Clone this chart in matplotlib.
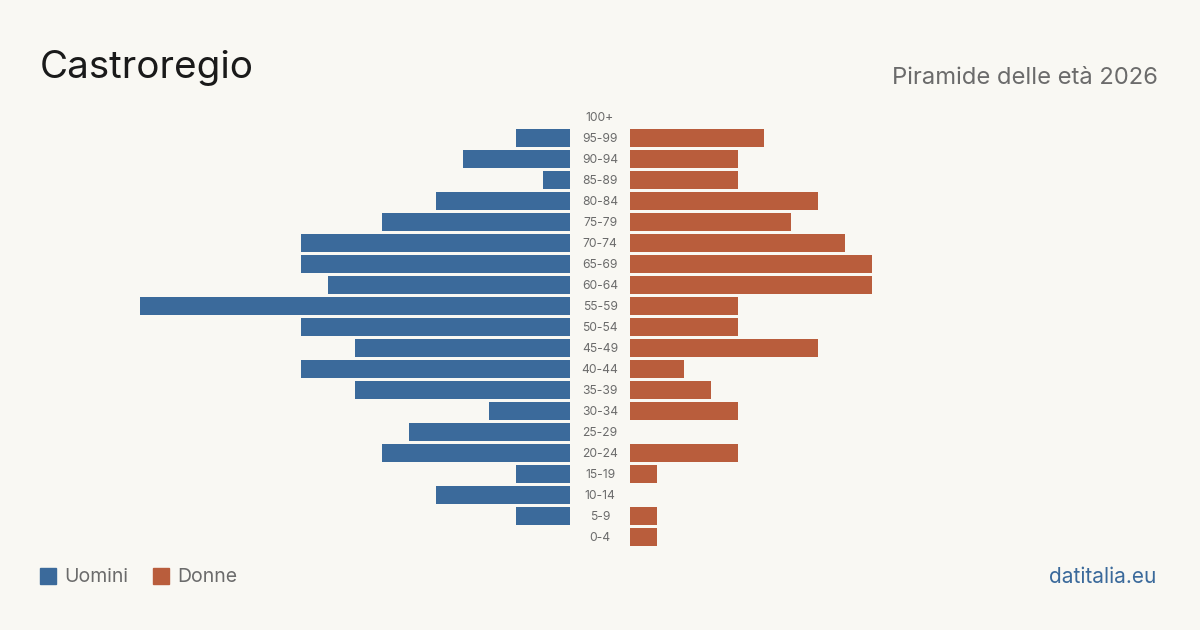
import numpy as np
import matplotlib.pyplot as plt
from matplotlib.patches import Rectangle

# Fasce d'età dal basso verso l'alto
age_groups = ["0-4", "5-9", "10-14", "15-19", "20-24", "25-29", "30-34", "35-39",
              "40-44", "45-49", "50-54", "55-59", "60-64", "65-69", "70-74",
              "75-79", "80-84", "85-89", "90-94", "95-99", "100+"]
uomini = [0, 2, 5, 2, 7, 6, 3, 8, 10, 8, 10, 16, 9, 10, 10, 7, 5, 1, 4, 2, 0]
donne = [1, 1, 0, 1, 4, 0, 4, 3, 2, 7, 4, 4, 9, 9, 8, 6, 7, 4, 4, 5, 0]

title = "Castroregio"
subtitle = "Piramide delle età 2026"
source = "datitalia.eu"

BG = "#f9f8f3"
BLUE = "#3b6a9b"
ORANGE = "#b95d3c"
GREY = "#6b6b6b"

plt.rcParams['font.family'] = ['Inter', 'DejaVu Sans']

W, H = 1200, 630
fig = plt.figure(figsize=(W / 100, H / 100), dpi=100, facecolor=BG)

xmax = max(max(uomini), max(donne))
px_per_unit = 430 / 16
span = xmax * px_per_unit

n = len(age_groups)
row = 21
top = 106.5
bottom = top + n * row

def fig_rect(x0, x1, y0, y1):
    # pixel coords (top-left origin) -> figure fraction
    return [x0 / W, 1 - y1 / H, (x1 - x0) / W, (y1 - y0) / H]

y = np.arange(n)

ax_l = fig.add_axes(fig_rect(570 - span, 570, top, bottom))
ax_l.barh(y, uomini, height=0.81, color=BLUE)
ax_l.set_xlim(xmax, 0)

ax_r = fig.add_axes(fig_rect(630, 630 + span, top, bottom))
ax_r.barh(y, donne, height=0.81, color=ORANGE)
ax_r.set_xlim(0, xmax)

for ax in (ax_l, ax_r):
    ax.set_ylim(-0.5, n - 0.5)
    ax.set_facecolor("none")
    ax.axis("off")

# etichette centrali
for i, lab in enumerate(age_groups):
    yy = 1 - (top + (n - 1 - i) * row + row / 2 + 1) / H
    fig.text(600 / W, yy, lab, ha="center", va="center", fontsize=8.7, color=GREY)

fig.text(40 / W, 1 - 68 / H, title, ha="left", va="center", fontsize=27.8, color="#1a1a1a")
fig.text(1158 / W, 1 - 78 / H, subtitle, ha="right", va="center", fontsize=17.1, color=GREY)

# legenda
for x0, col, lab in [(40, BLUE, "Uomini"), (153, ORANGE, "Donne")]:
    fig.patches.append(Rectangle((x0 / W, 1 - 584 / H), 16 / W, 16 / H,
                                 transform=fig.transFigure, color=col))
    fig.text((x0 + 24) / W, 1 - 577 / H, lab, ha="left", va="center", fontsize=14, color=GREY)

fig.text(1156 / W, 1 - 577 / H, source, ha="right", va="center", fontsize=15, color=BLUE)

fig.savefig("out.png", dpi=100, facecolor=BG)
